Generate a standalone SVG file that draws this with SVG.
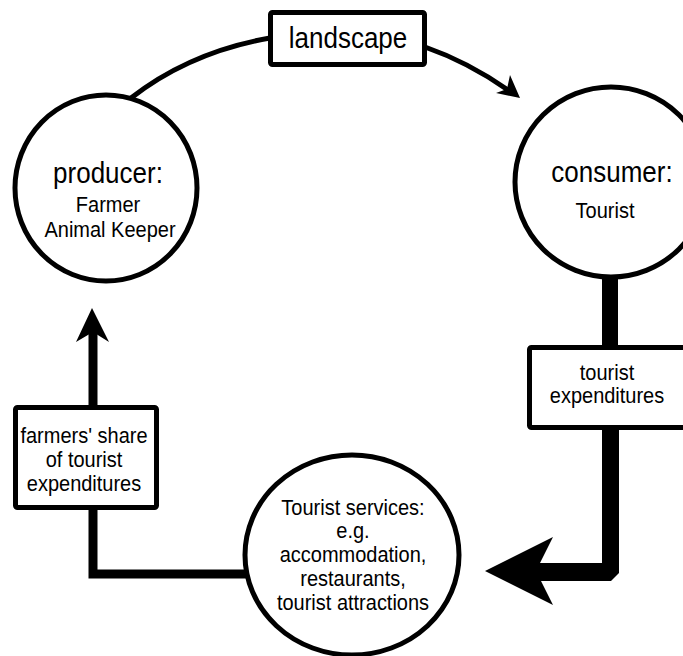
<svg xmlns="http://www.w3.org/2000/svg" width="683" height="656" viewBox="0 0 683 656">
  <style>
    text { font-family: "Liberation Sans", Arial, sans-serif; fill: #000; text-anchor: middle; }
    .big { font-size: 26px; }
    .lbl { font-size: 20px; }
    .node { fill: #fff; stroke: #000; stroke-width: 5; }
    .box { fill: #fff; stroke: #000; stroke-width: 5; stroke-linejoin: round; }
    .flow { fill: none; stroke: #000; stroke-linejoin: miter; }
  </style>

  <!-- connectors -->
  <g id="connectors">
    <!-- landscape flow: producer to consumer -->
    <path class="flow" stroke-width="5" d="M131,98 Q190,52 270,38"/>
    <path class="flow" stroke-width="5" d="M425,47 Q468,62 508,90"/>
    <polygon points="520,98 510,75 507,89 496,93" fill="#000"/>

    <!-- tourist expenditures: consumer to tourist services -->
    <path class="flow" stroke-width="16" d="M610,276 V347"/>
    <path d="M602,428 H619 V573 L611,581 H535 V563 H602 Z" fill="#000"/>
    <polygon points="485,571 553,537 536,571 553,605" fill="#000"/>

    <!-- farmers' share: tourist services back to producer -->
    <path class="flow" stroke-width="9" d="M246,574 H93 V506"/>
    <path class="flow" stroke-width="9" d="M93,408 V330"/>
    <polygon points="92,308 109,342 93,332 76,342" fill="#000"/>
  </g>

  <g id="landscape">
    <rect class="box" x="270.5" y="12.5" width="154" height="52" rx="2"/>
    <text class="big" transform="translate(348,48) scale(1,1.12)">landscape</text>
  </g>

  <g id="producer">
    <ellipse class="node" cx="106" cy="188" rx="91" ry="93"/>
    <text class="big" transform="translate(108,183) scale(1,1.12)">producer:</text>
    <text class="lbl" transform="translate(108,212) scale(1,1.06)">Farmer</text>
    <text class="lbl" transform="translate(110,237) scale(1,1.06)">Animal Keeper</text>
  </g>

  <g id="consumer">
    <ellipse class="node" cx="611" cy="182" rx="96" ry="95"/>
    <text class="big" transform="translate(612,182) scale(1,1.12)">consumer:</text>
    <text class="lbl" transform="translate(605,218) scale(1,1.06)">Tourist</text>
  </g>

  <g id="tourist-expenditures">
    <rect class="box" x="529.5" y="347.5" width="160" height="80" rx="2"/>
    <text class="lbl" transform="translate(607,380) scale(1,1.06)">tourist</text>
    <text class="lbl" transform="translate(607,403) scale(1,1.06)">expenditures</text>
  </g>

  <g id="farmers-share">
    <rect class="box" x="15.5" y="407.5" width="141" height="100" rx="2"/>
    <text class="lbl" transform="translate(84,443) scale(1,1.06)">farmers' share</text>
    <text class="lbl" transform="translate(84,467) scale(1,1.06)">of tourist</text>
    <text class="lbl" transform="translate(84,491) scale(1,1.06)">expenditures</text>
  </g>

  <g id="tourist-services">
    <ellipse class="node" cx="352" cy="555" rx="107" ry="100"/>
    <text class="lbl" transform="translate(353,515) scale(1,1.06)">Tourist services:</text>
    <text class="lbl" transform="translate(353,538) scale(1,1.06)">e.g.</text>
    <text class="lbl" transform="translate(353,562) scale(1,1.06)">accommodation,</text>
    <text class="lbl" transform="translate(353,586) scale(1,1.06)">restaurants,</text>
    <text class="lbl" transform="translate(353,610) scale(1,1.06)">tourist attractions</text>
  </g>
</svg>
